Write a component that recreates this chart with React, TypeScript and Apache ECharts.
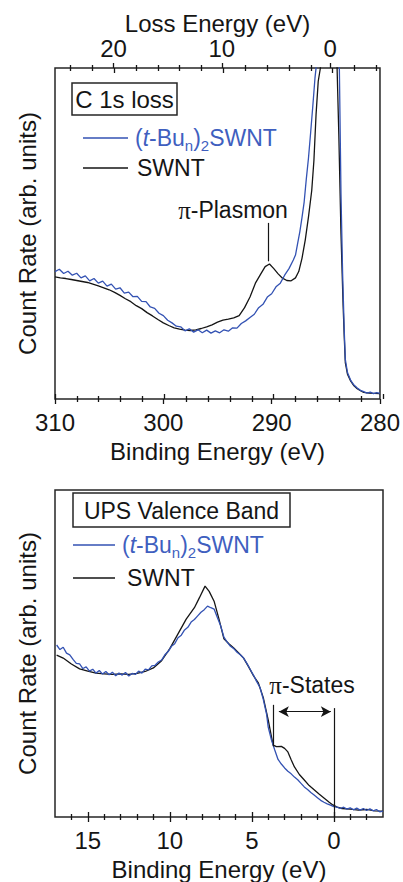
import React, { useEffect, useRef } from 'react';
import * as echarts from 'echarts';

const FONT = '"Liberation Sans", Arial, Helvetica, sans-serif';
const BLUE = '#3352b3';
const BLUE_TEXT = '#3f5fbf';
const INK = '#151515';

// ---------- Top panel: C 1s loss ----------
const topBlueBE = [310.0, 309.6, 309.2, 308.8, 308.4, 308.0, 307.6, 307.2, 306.8, 306.4, 306.0, 305.6, 305.2, 304.8, 304.4, 304.0, 303.6, 303.2, 302.8, 302.4, 302.0, 301.6, 301.2, 300.8, 300.4, 300.0, 299.6, 299.2, 298.8, 298.4, 298.0, 297.6, 297.2, 296.8, 296.4, 296.0, 295.6, 295.2, 294.8, 294.4, 294.0, 293.6, 293.2, 292.8, 292.4, 292.0, 291.6, 291.2, 290.8, 290.4, 290.0, 289.6, 289.2, 288.8, 288.4, 288.0, 287.8, 287.6, 287.4, 287.2, 287.0, 286.8, 286.6, 286.4, 286.2, 286.0, 285.8, 285.4, 285.0, 284.6, 284.2, 283.9, 283.75, 283.6, 283.45, 283.3, 283.2, 283.0, 282.7, 282.4, 282.1, 281.8, 281.5, 281.2, 280.9, 280.6, 280.3, 280.0];
const topBlueVal = [38.5, 39.2, 37.9, 38.6, 37.4, 38.0, 36.6, 37.2, 35.7, 36.4, 35.0, 35.6, 34.1, 34.7, 33.2, 33.6, 32.0, 32.3, 30.9, 31.0, 29.5, 29.4, 27.8, 27.4, 25.9, 25.2, 23.8, 23.0, 22.0, 21.8, 20.6, 21.2, 20.2, 20.9, 20.0, 20.8, 19.9, 20.6, 20.0, 20.9, 20.5, 21.5, 21.4, 22.8, 23.6, 24.6, 25.6, 27.6, 28.6, 30.8, 31.8, 33.9, 35.0, 37.4, 39.4, 42.0, 43.5, 47.0, 50.5, 54.8, 59.5, 66.5, 72.8, 80.5, 88.5, 97.0, 103, 118, 135, 140, 125, 108, 100, 62, 38, 20.8, 12.0, 8.0, 5.6, 4.2, 3.3, 2.6, 2.2, 1.8, 2.1, 1.6, 1.9, 1.7];

const topBlackBE = [310.0, 309.5, 309.0, 308.5, 308.0, 307.5, 307.0, 306.5, 306.0, 305.5, 305.0, 304.5, 304.0, 303.5, 303.0, 302.5, 302.0, 301.5, 301.0, 300.5, 300.0, 299.5, 299.0, 298.5, 298.0, 297.5, 297.0, 296.5, 296.0, 295.5, 295.0, 294.5, 294.0, 293.5, 293.0, 292.5, 292.0, 291.5, 291.0, 290.6, 290.2, 289.8, 289.4, 289.0, 288.6, 288.2, 287.8, 287.5, 287.2, 286.9, 286.6, 286.3, 286.1, 285.9, 285.7, 285.5, 285.2, 284.8, 284.4, 284.0, 283.8, 283.6, 283.4, 283.3, 283.2, 283.0, 282.7, 282.4, 282.1, 281.8, 281.5, 281.0, 280.5, 280.0];
const topBlackVal = [36.9, 36.6, 36.4, 36.1, 35.8, 35.5, 35.2, 34.7, 34.2, 33.6, 33.0, 32.2, 31.3, 30.3, 29.4, 28.2, 27.3, 26.1, 25.1, 24.0, 23.0, 22.2, 21.5, 21.1, 20.8, 20.7, 20.9, 21.3, 21.8, 22.4, 23.2, 23.8, 24.1, 24.5, 25.2, 27.6, 30.8, 35.0, 37.8, 40.0, 40.8, 39.4, 37.8, 36.5, 35.8, 35.7, 36.6, 38.5, 42.5, 48.0, 55.0, 63.0, 72.0, 86.0, 96.0, 100.0, 115, 135, 130, 105, 80, 50, 28, 19, 11, 7.5, 5.4, 4.0, 3.1, 2.5, 2.0, 1.8, 1.7, 1.6];

const topBEMajor = [280, 290, 300, 310];
const topBEMinor = [282, 284, 286, 288, 292, 294, 296, 298, 302, 304, 306, 308];
const lossMajor = [0, 10, 20];
const lossMinor = [-4, -2, 2, 4, 6, 8, 12, 14, 16, 18, 22, 24];
const LOSS_ZERO_BE = 284.6;
const plasmonMarker = [290.3, 41.6, 53.2];

// ---------- Bottom panel: UPS valence band ----------
const botBlueBE = [16.9, 16.7, 16.5, 16.3, 16.1, 15.9, 15.7, 15.5, 15.3, 15.1, 14.9, 14.7, 14.5, 14.3, 14.1, 13.9, 13.7, 13.5, 13.3, 13.1, 12.9, 12.7, 12.5, 12.3, 12.1, 11.9, 11.7, 11.5, 11.3, 11.1, 10.9, 10.7, 10.5, 10.3, 10.1, 9.9, 9.7, 9.5, 9.3, 9.1, 8.9, 8.7, 8.5, 8.3, 8.1, 7.9, 7.7, 7.5, 7.3, 7.1, 6.9, 6.7, 6.5, 6.3, 6.1, 5.9, 5.7, 5.5, 5.3, 5.1, 4.9, 4.7, 4.5, 4.3, 4.1, 4.0, 3.8, 3.6, 3.4, 3.2, 3.0, 2.8, 2.6, 2.4, 2.2, 2.0, 1.8, 1.6, 1.4, 1.2, 1.0, 0.8, 0.6, 0.4, 0.2, 0.0, -0.2, -0.4, -0.6, -0.8, -1.0, -1.2, -1.4, -1.6, -1.8, -2.0, -2.2, -2.4, -2.6, -2.8, -3.0];
const botBlueVal = [52.6, 51.2, 51.9, 50.1, 49.6, 48.2, 47.0, 46.8, 45.4, 45.9, 44.6, 45.2, 44.0, 44.8, 43.7, 44.5, 43.5, 44.3, 43.2, 44.0, 43.4, 44.2, 43.1, 43.9, 43.6, 44.6, 44.0, 45.2, 45.0, 46.2, 46.4, 47.4, 48.0, 49.6, 50.6, 52.2, 53.0, 54.8, 55.6, 57.2, 58.0, 59.6, 60.4, 61.5, 62.6, 63.4, 64.5, 64.0, 63.6, 61.0, 58.5, 55.0, 53.5, 52.2, 51.5, 50.4, 49.6, 48.6, 47.0, 45.2, 43.4, 41.4, 39.6, 36.0, 31.5, 27.5, 23.5, 20.5, 17.6, 16.2, 15.0, 14.0, 13.2, 12.2, 11.4, 10.3, 9.2, 8.4, 7.5, 6.7, 5.9, 5.1, 4.5, 4.0, 3.6, 3.2, 3.0, 2.6, 3.0, 2.4, 2.8, 2.2, 2.7, 2.1, 2.6, 2.0, 2.5, 1.9, 2.3, 1.6, 1.8];

const botBlackBE = [16.9, 16.5, 16.0, 15.5, 15.0, 14.5, 14.0, 13.5, 13.0, 12.5, 12.0, 11.5, 11.0, 10.5, 10.0, 9.5, 9.0, 8.5, 8.2, 7.85, 7.6, 7.3, 7.0, 6.7, 6.4, 6.1, 5.8, 5.5, 5.2, 4.9, 4.6, 4.3, 4.0, 3.8, 3.7, 3.5, 3.2, 3.0, 2.8, 2.6, 2.4, 2.1, 1.8, 1.5, 1.2, 0.9, 0.6, 0.3, 0.06, -0.2, -0.5, -1.0, -1.5, -2.0, -2.5, -3.0];
const botBlackVal = [49.5, 48.6, 46.8, 45.3, 44.6, 44.0, 43.8, 43.6, 43.8, 43.6, 43.9, 44.5, 45.6, 47.8, 51.5, 56.0, 60.5, 64.0, 67.0, 70.6, 69.0, 66.0, 60.5, 54.5, 53.0, 51.7, 50.2, 48.6, 46.0, 43.2, 41.0, 36.5, 29.7, 24.5, 22.0, 21.5, 21.6, 21.0, 19.9, 17.5, 15.3, 13.0, 11.3, 9.6, 8.3, 7.0, 5.8, 4.6, 3.7, 3.0, 2.6, 2.4, 2.1, 2.3, 1.9, 1.8];

const botBEMajor = [0, 5, 10, 15];
const botBEMinor = [-2, -1, 1, 2, 3, 4, 6, 7, 8, 9, 11, 12, 13, 14, 16];
const piStatesLeft = [3.67, 21.6, 34.3];
const piStatesRight = [0, 0, 33.3];
const piStatesArrow = [3.35, 0.18, 32.2];

const pairs = (xs: number[], ys: number[]) => xs.map((x, i) => [x, ys[i]]);

const TOP = { left: 55, top: 68, width: 328, height: 331 };
const BOT = { left: 55, top: 490, width: 328, height: 327 };

function tickAxis(gridIndex: number, position: string, min: number, max: number, values: number[], inside: boolean, length: number, extra: any = {}) {
  return {
    type: 'value', gridIndex, position, min, max, inverse: true,
    axisLine: { show: false },
    splitLine: { show: false },
    axisTick: { show: true, inside, length, customValues: values, lineStyle: { color: INK, width: 1.3 } },
    axisLabel: { show: false },
    ...extra,
  };
}

export default function App() {
  const ref = useRef<HTMLDivElement>(null);
  useEffect(() => {
    document.body.style.margin = '0';
    if (!ref.current) return;
    const chart = echarts.init(ref.current, null, { renderer: 'svg' });

    const labelStyle = { show: true, fontSize: 24, color: INK, fontFamily: FONT };
    const nameStyle = { fontSize: 24, color: INK, fontFamily: FONT };

    const lossMin = 280 - LOSS_ZERO_BE;
    const lossMax = 310 - LOSS_ZERO_BE;

    const grids = [
      { ...TOP, show: true, borderColor: '#262626', borderWidth: 1.5 },
      { ...TOP }, { ...TOP }, { ...TOP },
      { ...BOT, show: true, borderColor: '#262626', borderWidth: 1.5 },
      { ...BOT }, { ...BOT }, { ...BOT },
    ];

    const xAxes = [
      // top panel, main axes
      tickAxis(0, 'bottom', 280, 310, topBEMajor, false, 5, {
        axisLabel: { ...labelStyle, customValues: topBEMajor, margin: 11 },
        name: 'Binding Energy (eV)', nameLocation: 'middle', nameGap: 40, nameTextStyle: nameStyle,
      }),
      tickAxis(0, 'top', lossMin, lossMax, lossMajor, false, 5, {
        axisLabel: { ...labelStyle, customValues: lossMajor, margin: 8 },
        name: 'Loss Energy (eV)', nameLocation: 'middle', nameGap: 33, nameTextStyle: nameStyle,
      }),
      tickAxis(1, 'bottom', 280, 310, topBEMajor, true, 5),
      tickAxis(1, 'top', lossMin, lossMax, lossMajor, true, 5),
      tickAxis(2, 'bottom', 280, 310, topBEMinor, false, 3),
      tickAxis(2, 'top', lossMin, lossMax, lossMinor, false, 3),
      tickAxis(3, 'bottom', 280, 310, topBEMinor, true, 3),
      tickAxis(3, 'top', lossMin, lossMax, lossMinor, true, 3),
      // bottom panel
      tickAxis(4, 'bottom', -3, 17, botBEMajor, false, 5, {
        axisLabel: { ...labelStyle, customValues: botBEMajor, margin: 11 },
        name: 'Binding Energy (eV)', nameLocation: 'middle', nameGap: 40, nameTextStyle: nameStyle,
      }),
      tickAxis(5, 'bottom', -3, 17, botBEMajor, true, 5),
      tickAxis(6, 'bottom', -3, 17, botBEMinor, false, 3),
      tickAxis(7, 'bottom', -3, 17, botBEMinor, true, 3),
    ];

    const yAxes = grids.map((_, i) => {
      const main = i === 0 || i === 4;
      return {
        type: 'value', gridIndex: i, min: 0, max: 100, show: main,
        axisLine: { show: false }, axisTick: { show: false }, axisLabel: { show: false }, splitLine: { show: false },
        name: main ? 'Count Rate (arb. units)' : '', nameLocation: 'middle', nameGap: 16, nameRotate: 90,
        nameTextStyle: nameStyle,
      };
    });

    const markStyle = { color: INK, width: 1.2, type: 'solid' };
    const seg = (x1: number, y1: number, x2: number, y2: number) => [{ coord: [x1, y1] }, { coord: [x2, y2] }];

    const series: any[] = [
      {
        type: 'line', name: 'SWNT', xAxisIndex: 0, yAxisIndex: 0, data: pairs(topBlackBE, topBlackVal),
        showSymbol: false, clip: true, lineStyle: { color: INK, width: 1.3 }, itemStyle: { color: INK },
        markLine: {
          silent: true, symbol: ['none', 'none'], label: { show: false }, lineStyle: markStyle, animation: false,
          data: [seg(plasmonMarker[0], plasmonMarker[1], plasmonMarker[0], plasmonMarker[2])],
        },
      },
      {
        type: 'line', name: '(t-Bun)2SWNT', xAxisIndex: 0, yAxisIndex: 0, data: pairs(topBlueBE, topBlueVal),
        showSymbol: false, clip: true, lineStyle: { color: BLUE, width: 1.3 }, itemStyle: { color: BLUE },
      },
      {
        type: 'line', name: 'SWNT', xAxisIndex: 8, yAxisIndex: 4, data: pairs(botBlackBE, botBlackVal),
        showSymbol: false, clip: true, lineStyle: { color: INK, width: 1.3 }, itemStyle: { color: INK },
        markLine: {
          silent: true, symbol: ['none', 'none'], label: { show: false }, lineStyle: markStyle, animation: false,
          data: [
            seg(piStatesLeft[0], piStatesLeft[1], piStatesLeft[0], piStatesLeft[2]),
            seg(piStatesRight[0], piStatesRight[1], piStatesRight[0], piStatesRight[2]),
          ],
        },
      },
      {
        type: 'line', name: '(t-Bun)2SWNT', xAxisIndex: 8, yAxisIndex: 4, data: pairs(botBlueBE, botBlueVal),
        showSymbol: false, clip: true, lineStyle: { color: BLUE, width: 1.3 }, itemStyle: { color: BLUE },
        markLine: {
          silent: true, symbol: ['arrow', 'arrow'], symbolSize: [8, 10], label: { show: false },
          lineStyle: markStyle, itemStyle: { color: INK }, animation: false,
          data: [seg(piStatesArrow[0], piStatesArrow[2], piStatesArrow[1], piStatesArrow[2])],
        },
      },
    ];

    const legendRich = (color: string) => ({
      a: { fontSize: 23, fill: color, fontFamily: FONT, lineHeight: 30 },
      i: { fontSize: 23, fill: color, fontFamily: FONT, fontStyle: 'italic', lineHeight: 30 },
      s: { fontSize: 15, fill: color, fontFamily: FONT, verticalAlign: 'bottom', lineHeight: 15 },
    });
    const blueLabel = '{a|(}{i|t}{a|-Bu}{s|n}{a|)}{s|2}{a|SWNT}';

    const graphic: any[] = [
      // top panel box + legend
      { type: 'rect', shape: { x: 72, y: 83, width: 105, height: 32 }, style: { fill: '#fff', stroke: '#262626', lineWidth: 1.5 }, z: 10 },
      { type: 'text', x: 124.5, y: 99.5, style: { text: 'C 1s loss', fontSize: 24, fontFamily: FONT, fill: INK, align: 'center', verticalAlign: 'middle' }, z: 11 },
      { type: 'line', shape: { x1: 83, y1: 138, x2: 128, y2: 138 }, style: { stroke: BLUE, lineWidth: 1.3 }, z: 10 },
      { type: 'text', x: 135, y: 138, style: { text: blueLabel, rich: legendRich(BLUE_TEXT), verticalAlign: 'middle', align: 'left' }, z: 10 },
      { type: 'line', shape: { x1: 83, y1: 168, x2: 128, y2: 168 }, style: { stroke: INK, lineWidth: 1.3 }, z: 10 },
      { type: 'text', x: 137, y: 168, style: { text: 'SWNT', fontSize: 23, fontFamily: FONT, fill: INK, verticalAlign: 'middle' }, z: 10 },
      { type: 'text', x: 233, y: 210, style: { text: '{g|π}{a|-Plasmon}', rich: { g: { fontSize: 25, fontFamily: '"Liberation Serif", serif', fill: INK }, a: { fontSize: 23, fontFamily: FONT, fill: INK } }, align: 'center', verticalAlign: 'middle' }, z: 10 },
      // bottom panel box + legend
      { type: 'rect', shape: { x: 73, y: 493, width: 217, height: 34 }, style: { fill: '#fff', stroke: '#262626', lineWidth: 1.5 }, z: 10 },
      { type: 'text', x: 181.5, y: 510.5, style: { text: 'UPS Valence Band', fontSize: 23, fontFamily: FONT, fill: INK, align: 'center', verticalAlign: 'middle' }, z: 11 },
      { type: 'line', shape: { x1: 73, y1: 545, x2: 115, y2: 545 }, style: { stroke: BLUE, lineWidth: 1.3 }, z: 10 },
      { type: 'text', x: 122, y: 545, style: { text: blueLabel, rich: legendRich(BLUE_TEXT), verticalAlign: 'middle', align: 'left' }, z: 10 },
      { type: 'line', shape: { x1: 73, y1: 578, x2: 115, y2: 578 }, style: { stroke: INK, lineWidth: 1.3 }, z: 10 },
      { type: 'text', x: 127, y: 578, style: { text: 'SWNT', fontSize: 23, fontFamily: FONT, fill: INK, verticalAlign: 'middle' }, z: 10 },
      { type: 'text', x: 312, y: 685, style: { text: '{g|π}{a|-States}', rich: { g: { fontSize: 25, fontFamily: '"Liberation Serif", serif', fill: INK }, a: { fontSize: 23, fontFamily: FONT, fill: INK } }, align: 'center', verticalAlign: 'middle' }, z: 10 },
    ];

    chart.setOption({
      animation: false,
      backgroundColor: '#fff',
      textStyle: { fontFamily: FONT },
      grid: grids,
      xAxis: xAxes,
      yAxis: yAxes,
      series,
      graphic,
    });
    return () => chart.dispose();
  }, []);
  return <div ref={ref} style={{ width: 403, height: 882 }} />;
}
